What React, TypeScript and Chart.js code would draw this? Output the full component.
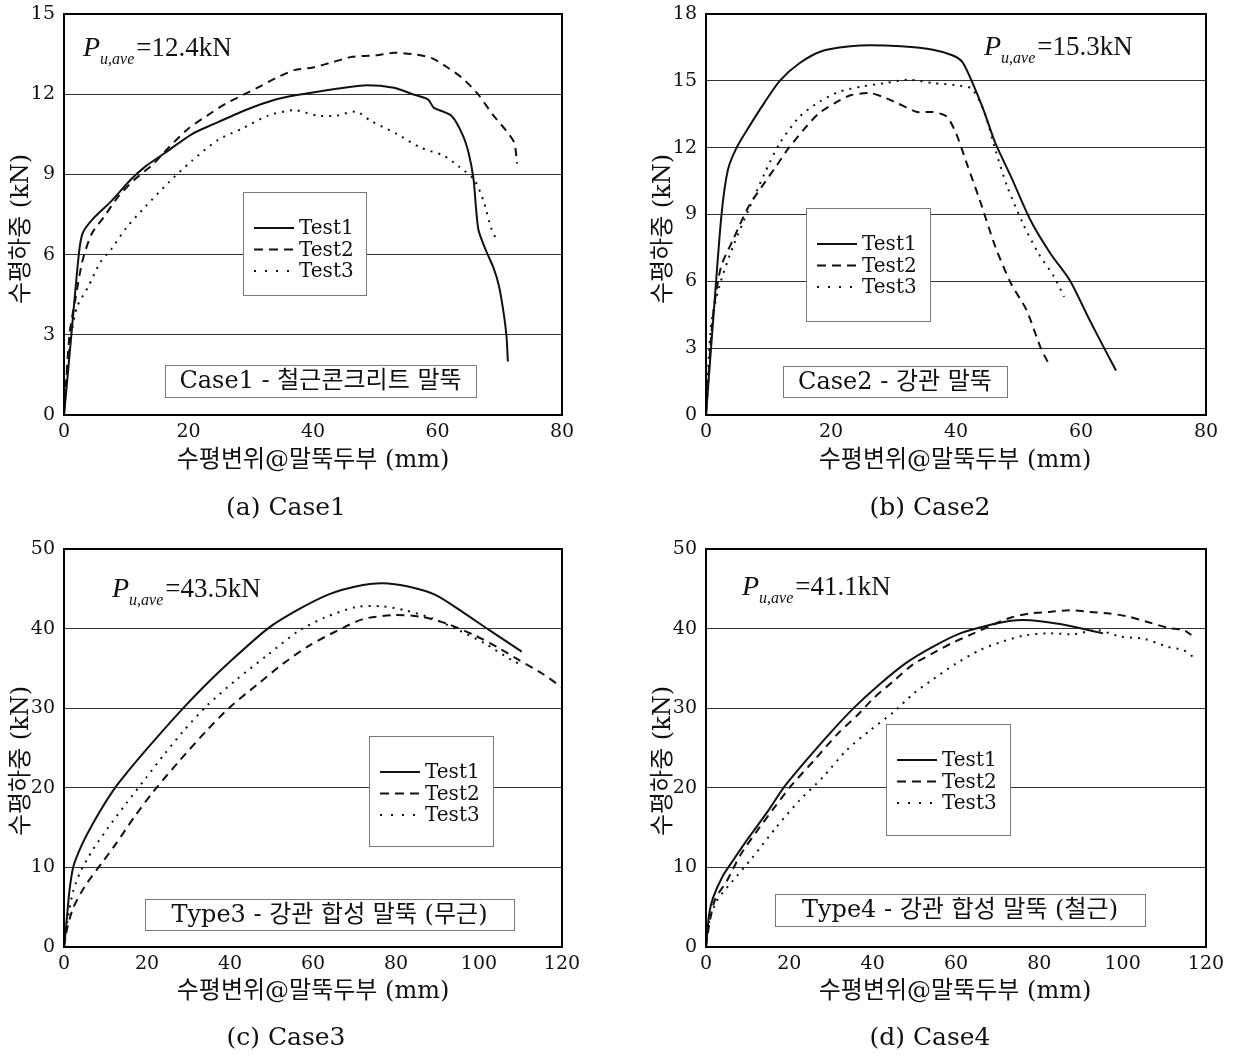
import React, { useEffect, useRef } from 'react';
import { Chart, registerables } from 'chart.js';

Chart.register(...registerables);

// ---------- Data ----------
// Case1 (x: mm, y: kN)
const case1Test1X = [0, 0.6, 1.2, 2.4, 3.0, 4.5, 7.6, 10.7, 13.1, 16.2, 20.5, 24.2, 29.1, 34, 38.3, 43.8, 48.1, 53, 56, 58.5, 59.4, 62.2, 64, 65, 65.8, 66.2, 66.6, 67.7, 69, 69.9, 70.7, 71.1, 71.3];
const case1Test1Y = [0, 1.5, 3.05, 6.05, 6.8, 7.3, 8.0, 8.8, 9.3, 9.8, 10.5, 10.9, 11.4, 11.8, 12.0, 12.2, 12.33, 12.24, 12.0, 11.8, 11.5, 11.2, 10.5, 9.8, 8.8, 7.7, 6.9, 6.2, 5.5, 4.8, 3.7, 2.9, 2.0];
const case1Test2X = [0, 0.9, 1.8, 3.0, 4.5, 6.4, 8.8, 11.3, 14.4, 16.8, 19.9, 23, 26, 29, 31.6, 34, 37, 40, 43.2, 46.3, 50, 53, 56, 59.1, 61.6, 64, 66.5, 69, 70.8, 72.3, 72.8];
const case1Test2Y = [0, 3.05, 4.3, 5.8, 6.8, 7.4, 8.2, 8.8, 9.4, 10.0, 10.7, 11.2, 11.65, 12.0, 12.3, 12.6, 12.9, 13.0, 13.2, 13.4, 13.45, 13.55, 13.5, 13.35, 13.0, 12.6, 12.0, 11.2, 10.7, 10.2, 9.4];
const case1Test3X = [0, 0.55, 1.2, 2.1, 3.9, 5.8, 7.6, 10, 13.1, 16.8, 20.5, 24.8, 28.5, 32.8, 37, 40.7, 43.8, 46.9, 49.3, 53.6, 57.3, 61, 63.4, 65.9, 67.4, 68.6, 69.6];
const case1Test3Y = [0, 1.8, 3.05, 4.05, 4.8, 5.7, 6.2, 7.0, 7.8, 8.7, 9.5, 10.3, 10.7, 11.2, 11.4, 11.2, 11.2, 11.35, 11.0, 10.5, 10.0, 9.7, 9.3, 8.8, 8.0, 7.0, 6.5];

// Case2
const case2Test1X = [0, 1.4, 2.5, 3.5, 4.9, 6.8, 9.3, 11.8, 15, 18.7, 23.1, 26.2, 31.2, 36.3, 39.4, 41, 42.5, 44.4, 46.3, 48.8, 51.9, 55.1, 58.2, 61.4, 63.9, 65.6];
const case2Test1Y = [0, 5.2, 9.05, 11.0, 12.0, 12.9, 14.0, 15.0, 15.8, 16.35, 16.55, 16.6, 16.55, 16.4, 16.15, 15.85, 15.0, 13.7, 12.2, 10.7, 8.75, 7.25, 6.05, 4.25, 2.9, 2.0];
const case2Test2X = [0, 1.1, 2.4, 4.3, 6.8, 9.3, 11.2, 13, 15.6, 18.1, 20.6, 23.1, 26.2, 28.1, 30.6, 33.8, 36.3, 38.5, 40, 41.9, 43.8, 46.3, 48.8, 51.3, 53.5, 55.1];
const case2Test2Y = [0, 4.4, 6.65, 7.85, 9.35, 10.4, 11.15, 11.9, 12.8, 13.55, 14.0, 14.35, 14.45, 14.3, 14.0, 13.6, 13.6, 13.4, 12.65, 11.15, 9.65, 7.55, 5.9, 4.7, 3.05, 2.15];
const case2Test3X = [0, 0.8, 2.1, 4.3, 6.8, 9.3, 11.8, 15, 18.1, 21.2, 25, 28.7, 32.5, 36.3, 40, 42.5, 44.4, 46.3, 48.2, 50.7, 53.2, 55.7, 57.3];
const case2Test3Y = [0, 4.0, 5.75, 7.55, 9.2, 10.8, 12.2, 13.4, 14.05, 14.5, 14.75, 14.9, 15.05, 14.9, 14.8, 14.65, 13.7, 11.9, 10.25, 8.6, 7.25, 6.2, 5.3];

// Case3
const case3Test1X = [0, 0.4, 1.3, 2.2, 3.6, 5.4, 8.6, 12.3, 16.9, 21.5, 28, 33.5, 39.9, 49.1, 56.5, 63.8, 70.3, 76.7, 83.2, 89.6, 96, 102.5, 110.3];
const case3Test1Y = [0, 2.0, 7.0, 10.0, 12.0, 14.0, 17.0, 20.0, 23.0, 25.8, 29.6, 32.6, 35.8, 40.0, 42.4, 44.3, 45.3, 45.7, 45.25, 44.2, 42.1, 39.8, 37.1];
const case3Test2X = [0, 0.8, 2.2, 5, 9.6, 12.3, 16.9, 21.5, 28, 34.4, 39.9, 46.4, 52.8, 59.2, 65.7, 72.1, 79.5, 85.9, 92.4, 98.8, 104.3, 109.8, 115.4, 120];
const case3Test2Y = [0, 2.4, 4.9, 7.6, 10.9, 12.8, 16.3, 19.5, 23.5, 27.2, 30.1, 32.9, 35.6, 37.9, 39.7, 41.2, 41.7, 41.5, 40.6, 39.2, 37.7, 36.0, 34.3, 32.6];
const case3Test3X = [0, 0.8, 2.2, 4, 6.8, 10.5, 15.1, 19.7, 24.3, 28.9, 34.4, 41.8, 49.1, 56.5, 62.9, 70.3, 76.7, 82.2, 88.7, 95.1, 101.5, 108, 110.7];
const case3Test3Y = [0, 3.2, 7.0, 9.5, 12.1, 14.9, 18.1, 21.2, 24.3, 27.2, 30.3, 33.7, 36.7, 39.7, 41.4, 42.7, 42.8, 42.3, 41.3, 39.8, 38.1, 36.0, 35.4];

// Case4
const case4Test1X = [0, 0.75, 1.7, 4, 6.4, 10.2, 14.9, 18.6, 24.3, 30, 35.6, 41.2, 47.8, 54.4, 61, 67.6, 73.2, 77.9, 84.5, 90.2, 95.3];
const case4Test1Y = [0, 4.1, 6.2, 8.9, 10.8, 13.7, 17.1, 20.0, 23.6, 27.0, 30.1, 32.8, 35.6, 37.7, 39.4, 40.4, 41.0, 41.05, 40.6, 40.0, 39.4];
const case4Test2X = [0, 0.9, 2.2, 5, 8.3, 12, 16.8, 20.5, 26.2, 31.8, 36.5, 40.3, 45, 49.7, 54.4, 59.1, 63.8, 68.5, 73.2, 77.9, 82.6, 87.3, 92, 96.8, 101.5, 106.2, 110.9, 114.6, 116.5];
const case4Test2Y = [0, 3.2, 6.0, 8.3, 11.6, 14.4, 17.8, 20.3, 23.6, 26.9, 29.2, 31.3, 33.4, 35.5, 36.9, 38.2, 39.3, 40.4, 41.4, 41.9, 42.1, 42.3, 42.1, 41.9, 41.5, 40.8, 40.1, 39.8, 39.2];
const case4Test3X = [0, 0.75, 2.6, 6.4, 11.1, 16.8, 22.4, 28, 33.7, 39.3, 45, 49.7, 54.4, 60, 65.7, 71.3, 77, 82.6, 88.3, 93.9, 99.5, 105.2, 110.9, 114.6, 117];
const case4Test3Y = [0, 3.2, 5.8, 8.3, 11.2, 15.0, 18.4, 21.3, 24.7, 27.2, 29.5, 31.8, 33.6, 35.6, 37.3, 38.4, 39.2, 39.4, 39.3, 39.8, 39.0, 38.7, 37.7, 37.3, 36.4];

// Axis ranges / ticks
const xMaxes = [80, 80, 120, 120];
const xSteps = [20, 20, 20, 20];
const yMaxes = [15, 18, 50, 50];
const ySteps = [3, 3, 10, 10];

// Texts
const seriesLabels = ['Test1', 'Test2', 'Test3'];
const captions = ['(a) Case1', '(b) Case2', '(c) Case3', '(d) Case4'];
const boxTexts = ['Case1 - 철근콘크리트 말뚝', 'Case2 - 강관 말뚝', 'Type3 - 강관 합성 말뚝 (무근)', 'Type4 - 강관 합성 말뚝 (철근)'];
const pValues = ['12.4', '15.3', '43.5', '41.1'];
const xTitle = '수평변위@말뚝두부 (mm)';
const yTitle = '수평하중 (kN)';

// ---------- Styles / layout ----------
const seriesDash = [[], [8, 6], [2, 6]];
const legendDash = [[], [9, 6], [2, 9]];
const INK = '#111';
const TICK_FONT = { family: '"DejaVu Serif", serif', size: 19 };
const WORD_FONT = '"DejaVu Serif", "Noto Sans CJK KR", serif';
const ANNOT_FONT = '"Liberation Serif", serif';

type Box = { x: number; y: number; w: number; h: number };
type PanelSpec = {
  idx: number;
  canvas: { left: number; top: number; width: number; height: number };
  area: { l: number; r: number; t: number; b: number };
  series: [number[], number[]][];
  legendBox: Box;
  caseBox: Box;
  pPos: { x: number; y: number };
  captionPos: { x: number; y: number };
  xTitlePos: { x: number; y: number };
  yTitlePos: { x: number; y: number };
};

const panels: PanelSpec[] = [
  {
    idx: 0,
    canvas: { left: 0, top: 0, width: 616, height: 530 },
    area: { l: 64, r: 562, t: 14, b: 415 },
    series: [[case1Test1X, case1Test1Y], [case1Test2X, case1Test2Y], [case1Test3X, case1Test3Y]],
    legendBox: { x: 243, y: 192, w: 123, h: 103 },
    caseBox: { x: 165, y: 365, w: 311, h: 32 },
    pPos: { x: 83, y: 56 },
    captionPos: { x: 286, y: 515 },
    xTitlePos: { x: 313, y: 461 },
    yTitlePos: { x: 22, y: 229 },
  },
  {
    idx: 1,
    canvas: { left: 616, top: 0, width: 617, height: 530 },
    area: { l: 706, r: 1206, t: 14, b: 415 },
    series: [[case2Test1X, case2Test1Y], [case2Test2X, case2Test2Y], [case2Test3X, case2Test3Y]],
    legendBox: { x: 806, y: 208, w: 124, h: 113 },
    caseBox: { x: 783, y: 366, w: 224, h: 31 },
    pPos: { x: 984, y: 55 },
    captionPos: { x: 930, y: 515 },
    xTitlePos: { x: 955, y: 461 },
    yTitlePos: { x: 664, y: 229 },
  },
  {
    idx: 2,
    canvas: { left: 0, top: 530, width: 616, height: 527 },
    area: { l: 64, r: 562, t: 549, b: 947 },
    series: [[case3Test1X, case3Test1Y], [case3Test2X, case3Test2Y], [case3Test3X, case3Test3Y]],
    legendBox: { x: 369, y: 736, w: 124, h: 110 },
    caseBox: { x: 145, y: 899, w: 369, h: 31 },
    pPos: { x: 112, y: 597 },
    captionPos: { x: 286, y: 1045 },
    xTitlePos: { x: 313, y: 992 },
    yTitlePos: { x: 22, y: 761 },
  },
  {
    idx: 3,
    canvas: { left: 616, top: 530, width: 617, height: 527 },
    area: { l: 706, r: 1206, t: 549, b: 947 },
    series: [[case4Test1X, case4Test1Y], [case4Test2X, case4Test2Y], [case4Test3X, case4Test3Y]],
    legendBox: { x: 886, y: 724, w: 124, h: 111 },
    caseBox: { x: 775, y: 894, w: 370, h: 32 },
    pPos: { x: 742, y: 595 },
    captionPos: { x: 930, y: 1045 },
    xTitlePos: { x: 955, y: 992 },
    yTitlePos: { x: 664, y: 761 },
  },
];

function makeOverlay(spec: PanelSpec) {
  const ox = spec.canvas.left;
  const oy = spec.canvas.top;
  return {
    id: 'overlay' + spec.idx,
    afterDatasetsDraw(chart: any) {
      const ctx: CanvasRenderingContext2D = chart.ctx;
      const { left, top, right, bottom } = chart.chartArea;
      ctx.save();
      // legend box
      const lb = spec.legendBox;
      const lx = lb.x - ox;
      const ly = lb.y - oy;
      ctx.fillStyle = '#fff';
      ctx.fillRect(lx, ly, lb.w, lb.h);
      ctx.strokeStyle = '#7a7a7a';
      ctx.lineWidth = 1;
      ctx.strokeRect(lx + 0.5, ly + 0.5, lb.w, lb.h);
      seriesLabels.forEach((lab, i) => {
        const yy = ly + 36 + i * 21.5;
        ctx.setLineDash(legendDash[i]);
        ctx.strokeStyle = INK;
        ctx.lineWidth = 2;
        ctx.beginPath();
        ctx.moveTo(lx + 11, yy);
        ctx.lineTo(lx + 51, yy);
        ctx.stroke();
        ctx.setLineDash([]);
        ctx.fillStyle = INK;
        ctx.font = '20px ' + WORD_FONT;
        ctx.textAlign = 'left';
        ctx.textBaseline = 'middle';
        ctx.fillText(lab, lx + 56, yy + 1);
      });
      // case box
      const cb = spec.caseBox;
      const cx = cb.x - ox;
      const cy = cb.y - oy;
      ctx.fillStyle = '#fff';
      ctx.fillRect(cx, cy, cb.w, cb.h);
      ctx.strokeStyle = '#7a7a7a';
      ctx.lineWidth = 1;
      ctx.strokeRect(cx + 0.5, cy + 0.5, cb.w, cb.h);
      ctx.fillStyle = INK;
      ctx.font = '24px ' + WORD_FONT;
      ctx.textAlign = 'center';
      ctx.textBaseline = 'middle';
      ctx.fillText(boxTexts[spec.idx], cx + cb.w / 2, cy + cb.h / 2 + 1);
      // frame
      ctx.strokeStyle = '#000';
      ctx.lineWidth = 2;
      ctx.strokeRect(left, top, right - left, bottom - top);
      ctx.restore();
    },
    afterDraw(chart: any) {
      const ctx: CanvasRenderingContext2D = chart.ctx;
      ctx.save();
      ctx.fillStyle = INK;
      // x title
      ctx.font = '24px ' + WORD_FONT;
      ctx.textAlign = 'center';
      ctx.textBaseline = 'middle';
      ctx.fillText(xTitle, spec.xTitlePos.x - ox, spec.xTitlePos.y - oy);
      // y title
      ctx.save();
      ctx.translate(spec.yTitlePos.x - ox, spec.yTitlePos.y - oy);
      ctx.rotate(-Math.PI / 2);
      ctx.fillText(yTitle, 0, 0);
      ctx.restore();
      // caption
      ctx.font = '25px ' + WORD_FONT;
      ctx.textBaseline = 'alphabetic';
      ctx.fillText(captions[spec.idx], spec.captionPos.x - ox, spec.captionPos.y - oy);
      // P annotation
      const px = spec.pPos.x - ox;
      const py = spec.pPos.y - oy;
      ctx.textAlign = 'left';
      ctx.font = 'italic 28px ' + ANNOT_FONT;
      ctx.fillText('P', px, py);
      const wP = ctx.measureText('P').width;
      ctx.font = 'italic 16px ' + ANNOT_FONT;
      ctx.fillText('u,ave', px + wP, py + 8);
      const wS = ctx.measureText('u,ave').width;
      ctx.font = '27px ' + ANNOT_FONT;
      ctx.fillText('=' + pValues[spec.idx] + 'kN', px + wP + wS + 2, py);
      ctx.restore();
    },
  };
}

function Panel({ spec }: { spec: PanelSpec }) {
  const ref = useRef<HTMLCanvasElement | null>(null);
  useEffect(() => {
    if (!ref.current) return;
    const i = spec.idx;
    const { canvas, area } = spec;
    const yMax = yMaxes[i];
    const chart = new Chart(ref.current, {
      type: 'line',
      data: {
        datasets: spec.series.map(([xs, ys], k) => ({
          label: seriesLabels[k],
          data: xs.map((x, j) => ({ x, y: ys[j] })),
          borderColor: INK,
          borderWidth: 2,
          borderDash: seriesDash[k],
          pointRadius: 0,
          tension: 0.25,
          fill: false,
        })),
      },
      options: {
        responsive: false,
        animation: false,
        events: [],
        layout: {
          autoPadding: false,
          padding: {
            left: 0,
            top: area.t - canvas.top,
            right: canvas.left + canvas.width - area.r,
            bottom: 0,
          },
        },
        plugins: {
          legend: { display: false },
          tooltip: { enabled: false },
          title: { display: false },
        },
        scales: {
          x: {
            type: 'linear',
            min: 0,
            max: xMaxes[i],
            ticks: { stepSize: xSteps[i], font: TICK_FONT, color: INK, padding: 6, maxRotation: 0, autoSkip: false },
            grid: { display: false, drawTicks: false },
            border: { display: false },
            afterFit: (s: any) => {
              s.height = canvas.top + canvas.height - area.b;
              s.paddingLeft = 0;
              s.paddingRight = 0;
            },
          },
          y: {
            type: 'linear',
            min: 0,
            max: yMax,
            ticks: { stepSize: ySteps[i], font: TICK_FONT, color: INK, padding: 9 },
            grid: {
              drawTicks: false,
              lineWidth: 1,
              color: (c: any) => {
                const v = c.tick ? c.tick.value : null;
                return v === 0 || v === yMax ? 'rgba(0,0,0,0)' : '#333';
              },
            },
            border: { display: false },
            afterFit: (s: any) => {
              s.width = area.l - canvas.left;
              s.paddingTop = 0;
              s.paddingBottom = 0;
            },
          },
        },
      } as any,
      plugins: [makeOverlay(spec)],
    });
    return () => chart.destroy();
  }, [spec]);
  return (
    <canvas
      ref={ref}
      width={spec.canvas.width}
      height={spec.canvas.height}
      style={{
        position: 'absolute',
        left: spec.canvas.left,
        top: spec.canvas.top,
        width: spec.canvas.width,
        height: spec.canvas.height,
      }}
    />
  );
}

export default function App() {
  return (
    <div
      style={{
        position: 'absolute',
        left: 0,
        top: 0,
        width: 1233,
        height: 1057,
        background: '#fff',
        overflow: 'hidden',
      }}
    >
      {panels.map((p) => (
        <Panel key={p.idx} spec={p} />
      ))}
    </div>
  );
}
